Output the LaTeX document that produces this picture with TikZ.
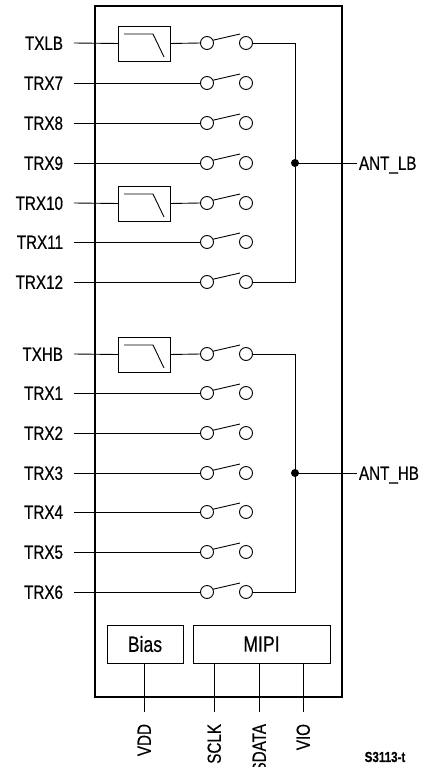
\documentclass[tikz,border=0pt]{standalone}
\usepackage{fontspec}
\setmainfont{Liberation Sans}[FakeStretch=0.8,FakeBold=0.5]
\begin{document}
\begin{tikzpicture}[x=1pt,y=-1pt,line width=0.9pt,
  lbl/.style={font=\fontsize{19}{19}\selectfont, inner ysep=0pt, text height=13.6pt, text depth=0pt, outer sep=0pt},
  sw/.style={circle, draw, minimum size=13pt, inner sep=0pt, outer sep=0pt},
  filt/.style={draw, minimum width=52pt, minimum height=35pt, inner sep=0pt, outer sep=0pt},
  blk/.style={draw, inner sep=0pt, outer sep=0pt, minimum height=38pt, font=\fontsize{22}{22}\selectfont},
  jdot/.style={circle, fill, minimum size=8pt, inner sep=0pt, outer sep=0pt},
  pin/.style={lbl, rotate=90, anchor=east, inner xsep=12pt}]
\useasboundingbox (0,0) rectangle (424,767);
\draw[line width=1.8pt] (95,6) rectangle (342,697);
\foreach \nm/\y/\f in {TXLB/43/1,TRX7/83/0,TRX8/123/0,TRX9/163/0,TRX10/203/1,TRX11/242/0,TRX12/282/0,
                        TXHB/354/1,TRX1/393/0,TRX2/433/0,TRX3/473/0,TRX4/512/0,TRX5/552/0,TRX6/592/0}{
  \node[lbl, anchor=east, inner xsep=11pt] (l\nm) at (74,\y) {\nm};
  \node[sw] (a\nm) at (207,\y) {};
  \node[sw] (b\nm) at (246,\y) {};
  \coordinate (t\nm) at (240,\y-9);
  \draw (a\nm.25) -- (t\nm);
  \ifnum\f=1
    \node[filt] (f\nm) at (144,\y+0.5) {};
    \draw (l\nm.east) -- (f\nm.west);
    \draw (f\nm.east) -- (a\nm.west);
    \draw ([shift={(-20,-9.5)}]f\nm.center) -- ++(29,0) -- ++(11,23);
  \else
    \draw (l\nm.east) -- (a\nm.west);
  \fi
}
% LB bus
\node[jdot] (jLB) at (295,163) {};
\node[lbl, anchor=west, inner xsep=2pt] (antLB) at (357,163) {ANT\_LB};
\draw (bTXLB.east) -| (jLB.center);
\draw (bTRX12.east) -| (jLB.center);
\draw (jLB.center) -- (antLB.west);
% HB bus
\node[jdot] (jHB) at (295,473) {};
\node[lbl, anchor=west, inner xsep=2pt] (antHB) at (357,473) {ANT\_HB};
\draw (bTXHB.east) -| (jHB.center);
\draw (bTRX6.east) -| (jHB.center);
\draw (jHB.center) -- (antHB.west);
% control blocks
\node[blk, minimum width=76pt] (bias) at (145,644) {Bias};
\node[blk, minimum width=137pt] (mipi) at (261.5,644) {MIPI};
\node[pin] (vdd) at (144,712) {VDD};
\node[pin] (sclk) at (214,712) {SCLK};
\node[pin] (sdata) at (259,712) {SDATA};
\node[pin] (vio) at (303,712) {VIO};
\draw (vdd.east |- bias.south) -- (vdd.east);
\draw (sclk.east |- mipi.south) -- (sclk.east);
\draw (sdata.east |- mipi.south) -- (sdata.east);
\draw (vio.east |- mipi.south) -- (vio.east);
\node[font=\fontsize{14.5}{14.5}\bfseries, anchor=center] (code) at (385,757) {S3113-t};
\end{tikzpicture}
\end{document}
